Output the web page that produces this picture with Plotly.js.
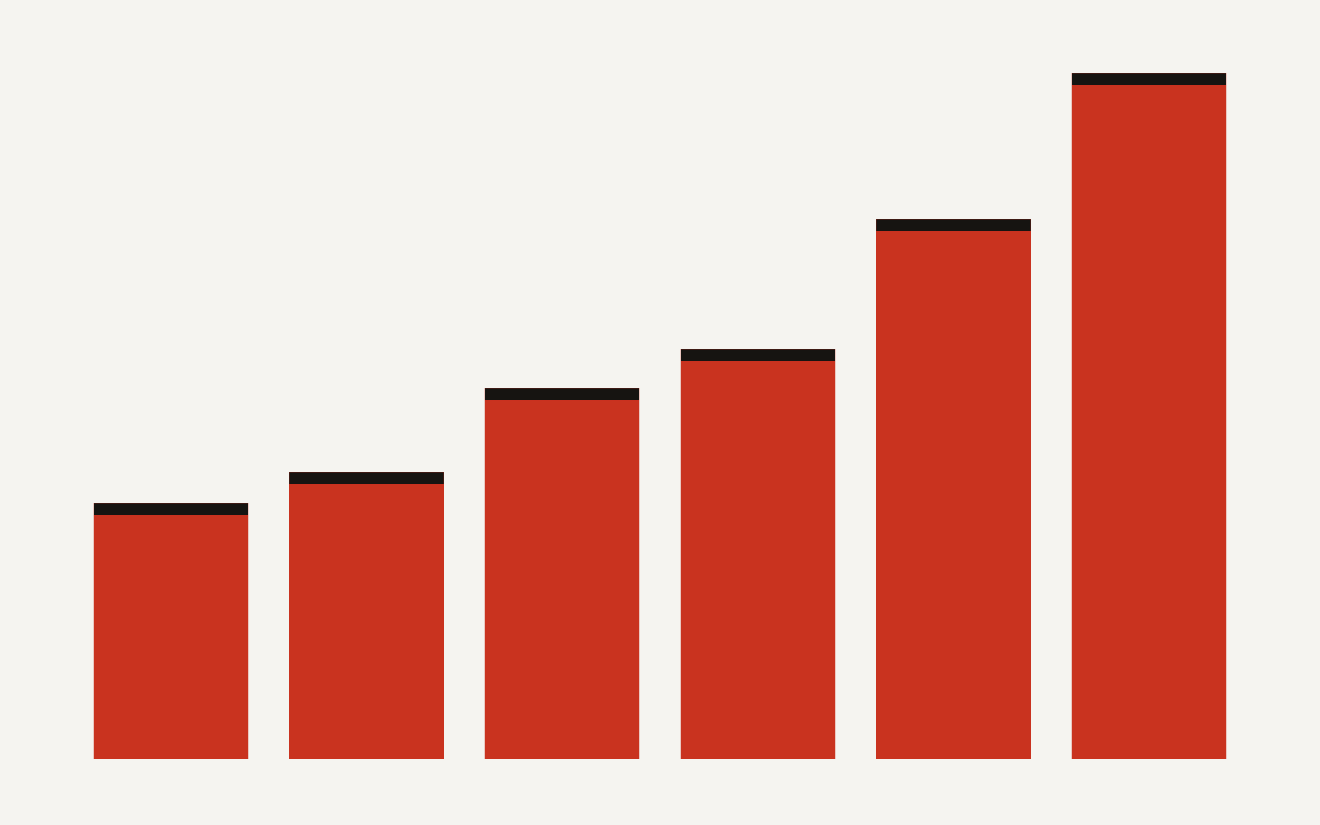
<!DOCTYPE html>
<html>
<head>
<meta charset="utf-8">
<script src="https://cdn.plot.ly/plotly-3.0.1.min.js"></script>
<style>html,body{margin:0;padding:0;background:#f5f4f0;}#chart{width:1320px;height:825px;}</style>
</head>
<body>
<div id="chart"></div>
<script>
const categories = ["A", "B", "C", "D", "E", "F"];
const mainValues = [24.4, 27.5, 35.9, 39.8, 52.8, 67.4];
const capValues = [1.17, 1.17, 1.17, 1.17, 1.17, 1.17];

const red = "#c9331f";
const dark = "#161411";
const edge = "rgba(201,51,31,0.45)";

const traces = [
  {type: "bar", x: categories, y: mainValues, marker: {color: red, line: {color: edge, width: 0.5}}, hoverinfo: "skip"},
  {type: "bar", x: categories, y: capValues, marker: {color: dark, line: {color: edge, width: 0.5}}, hoverinfo: "skip"}
];

const layout = {
  width: 1320, height: 825,
  barmode: "stack",
  bargap: 0.21,
  showlegend: false,
  paper_bgcolor: "#f5f4f0",
  plot_bgcolor: "#f5f4f0",
  margin: {l: 73, r: 73, t: 40, b: 66},
  xaxis: {visible: false, showgrid: false, zeroline: false},
  yaxis: {visible: false, showgrid: false, zeroline: false, range: [0, 71.9]}
};

Plotly.newPlot("chart", traces, layout, {displayModeBar: false, staticPlot: true});
</script>
</body>
</html>
